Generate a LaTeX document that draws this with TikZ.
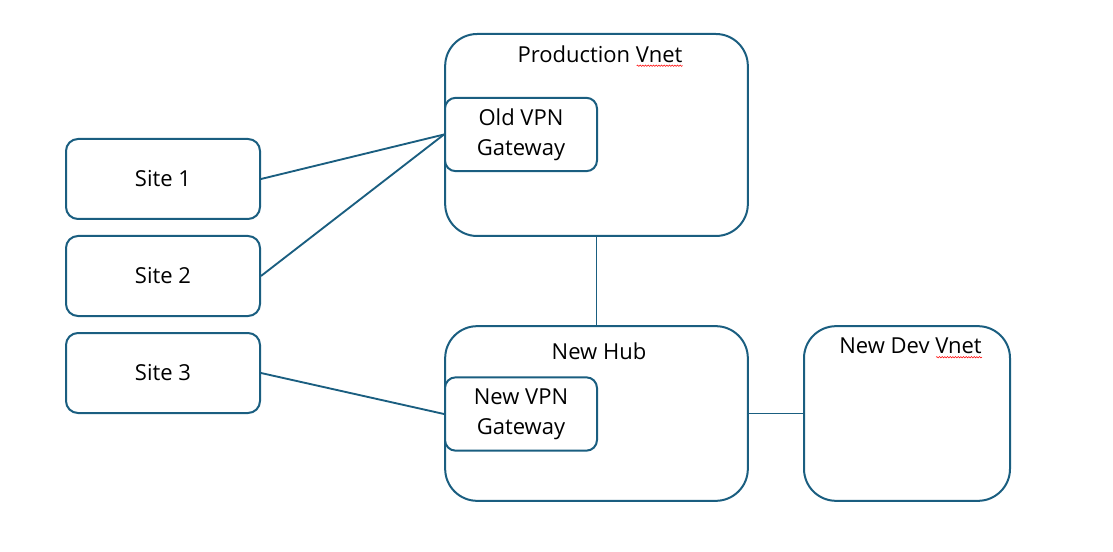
\documentclass[tikz,border=0pt]{standalone}
\usepackage{fontspec}
\setmainfont{Open Sans}
\usetikzlibrary{positioning,calc,decorations.pathmorphing}
\definecolor{netblue}{HTML}{1A5E80}
\tikzstyle{site} = [rectangle, rounded corners=9pt, minimum width=145.5pt, minimum height=60pt, text centered, draw=netblue, line width=1.5pt]
\tikzstyle{vnet} = [rectangle, rounded corners=24pt, draw=netblue, line width=1.5pt]
\tikzstyle{gateway} = [rectangle, rounded corners=8pt, minimum width=114pt, minimum height=55pt, align=center, draw=netblue, line width=1.5pt, fill=white]
\tikzstyle{title} = [inner sep=0pt]
\tikzstyle{link} = [netblue, line width=1.4pt]
\tikzstyle{squiggle} = [red, line width=0.4pt, decorate, decoration={snake, segment length=2pt, amplitude=0.5pt}]

\begin{document}
\begin{tikzpicture}[x=0.75pt, y=-0.75pt, font=\fontsize{16.5}{22.5}\selectfont]
  \useasboundingbox (0,0) rectangle (1113,552);
  % sites
  \node (site1)[site] at (163,179) {Site 1};
  \node (site2)[site] at (163,276) {Site 2};
  \node (site3)[site] at (163,373) {Site 3};
  % networks
  \node (prod)[vnet, minimum width=227pt, minimum height=151.5pt] at (596.5,135) {};
  \node (hub)[vnet, minimum width=227pt, minimum height=131pt] at (596.5,413.5) {};
  \node (dev)[vnet, minimum width=154.5pt, minimum height=131pt] at (907,413.5) {};
  \node (prodtitle)[title] at (600,54) {Production Vnet};
  \node (hubtitle)[title] at (599,351) {New Hub};
  \node (devtitle)[title] at (910.5,346) {New Dev Vnet};
  % gateways
  \node (oldgw)[gateway] at (521,134.5) {Old VPN\\Gateway};
  \node (newgw)[gateway] at (521,414) {New VPN\\Gateway};
  % links
  \draw [link] (site1.east) -- (oldgw.west);
  \draw [link] (site2.east) -- (oldgw.west);
  \draw [link] (site3.east) -- (newgw.west);
  \draw [link] (prod.south) -- (hub.north);
  \draw [link] (hub.east) -- (dev.west);
  % spelling marks
  \draw [squiggle] ($(prodtitle.south east)+(-46,3)$) -- ($(prodtitle.south east)+(0,3)$);
  \draw [squiggle] ($(devtitle.south east)+(-46,3)$) -- ($(devtitle.south east)+(0,3)$);
\end{tikzpicture}
\end{document}
